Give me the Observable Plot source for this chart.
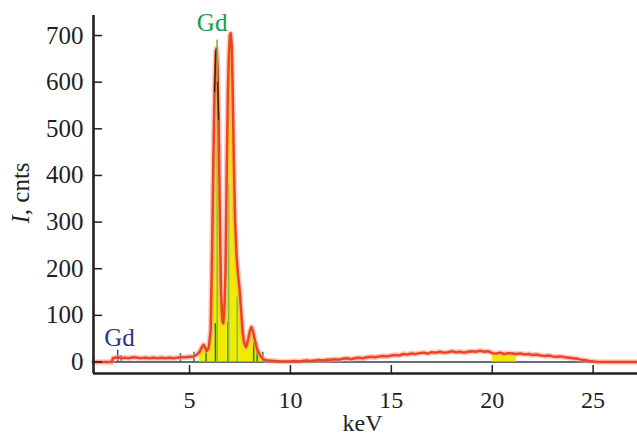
<!DOCTYPE html>
<html><head><meta charset="utf-8">
<script src="https://cdn.jsdelivr.net/npm/d3@7"></script>
<script src="https://cdn.jsdelivr.net/npm/@observablehq/plot@0.6"></script>
<style>
body{margin:0;background:#fff}
svg{font-family:"Liberation Serif","Times New Roman",serif}
</style>
</head><body><div id="chart"></div>
<script>
// spectrum (keV, counts)
const energy = [0.24,1.15,1.2,1.3,1.45,1.6,1.8,2.0,2.2,2.4,2.6,2.8,3.0,3.2,3.4,3.6,3.8,4.0,4.2,4.4,4.6,4.8,5.0,5.2,5.35,5.5,5.62,5.7,5.78,5.86,5.95,6.05,6.12,6.18,6.24,6.3,6.34,6.38,6.44,6.5,6.56,6.62,6.67,6.72,6.78,6.84,6.9,6.95,7.0,7.04,7.09,7.14,7.2,7.26,7.33,7.4,7.47,7.55,7.62,7.7,7.8,7.9,8.0,8.07,8.15,8.25,8.35,8.5,8.65,8.85,9.2,9.6,9.8,10.0,10.2,10.4,10.6,10.8,11.0,11.2,11.4,11.6,11.8,12.0,12.2,12.4,12.6,12.8,13.0,13.2,13.4,13.6,13.8,14.0,14.2,14.4,14.6,14.8,15.0,15.2,15.4,15.6,15.8,16.0,16.2,16.4,16.6,16.8,17.0,17.2,17.4,17.6,17.8,18.0,18.2,18.4,18.6,18.8,19.0,19.2,19.4,19.6,19.8,20.0,20.2,20.4,20.6,20.8,21.0,21.2,21.4,21.6,21.8,22.0,22.2,22.4,22.6,22.8,23.0,23.2,23.4,23.6,23.8,24.0,24.2,24.4,24.6,24.8,25.0,25.2,26.0,27.2];
const counts = [0,0,8,9,10,8,9,8,10,9,8,9,8,9,8,9,8,9,8,9,10,10,11,12,15,22,33,37,30,24,30,70,250,430,580,665,672,640,520,320,150,90,83,110,190,400,580,660,700,705,680,580,420,300,230,190,160,115,70,42,32,48,68,75,65,45,28,14,6,3,2,1,1,1,2,1,2,3,2,3,4,3,5,5,6,5,7,8,6,8,9,8,10,11,10,12,13,12,14,15,14,17,16,18,17,19,20,18,21,20,22,20,21,23,21,22,20,22,23,22,24,22,23,19,18,20,17,19,18,17,18,16,17,15,16,14,13,14,12,11,12,10,9,8,7,5,4,2,1,0,0,0];

// yellow-filled ranges (keV)
const fillRanges = [[5.5, 8.8], [20.0, 21.2]];

// element marker lines
const darkGreenKeV = [4.55, 5.22, 5.82, 6.28, 6.91, 8.18, 8.35, 8.63];
const darkGreenCnt = [18, 21, 32, 82, 85, 40, 29, 21];
const lightGreenKeV = [6.37, 6.94, 7.36];
const lightGreenCnt = [690, 380, 139];
const blueKeV = [1.44, 1.61];
const blueCnt = [25, 14];

// labels
const labelText = ["Gd", "Gd"];
const labelKeV = [6.12, 1.53];
const labelCnt = [727, 52];
const labelColor = ["#10a04a", "#2e3192"];

// axes
const xTicks = [5, 10, 15, 20, 25];
const yTicks = [0, 100, 200, 300, 400, 500, 600, 700];
const xDomain = [0.24, 27.2];
const yDomain = [-24.7, 743];

const spectrum = energy.map((k, i) => ({k, c: counts[i]}));
const fills = fillRanges.map(([a, b]) => spectrum.filter(d => d.k >= a && d.k <= b));
const dkG = darkGreenKeV.map((k, i) => ({k, c: darkGreenCnt[i]}));
const ltG = lightGreenKeV.map((k, i) => ({k, c: lightGreenCnt[i]}));
const blu = blueKeV.map((k, i) => ({k, c: blueCnt[i]}));
const labels = labelText.map((t, i) => ({t, k: labelKeV[i], c: labelCnt[i], color: labelColor[i]}));
const peakCore = spectrum.filter(d => d.k >= 6.24 && d.k <= 6.44);

const ink = "#231f20";
const xTickLen = 17;   // in count units (~8 px)
const yTickLen = 0.45; // in keV units (~9 px)

const plot = Plot.plot({
  width: 637, height: 439,
  marginLeft: 93, marginRight: 0, marginTop: 15, marginBottom: 66,
  x: {domain: xDomain, label: null},
  y: {domain: yDomain, label: null},
  axis: null,
  style: {fontFamily: "Liberation Serif, Times New Roman, serif", color: ink, background: "#fff"},
  marks: [
    Plot.ruleY([0], {x1: xDomain[0], x2: 25.0, stroke: "#2c3e4a", strokeWidth: 1.6}),
    ...fills.map(f => Plot.areaY(f, {x: "k", y1: 0, y2: "c", fill: "#f2ea00"})),
    Plot.ruleX(dkG, {x: "k", y1: 0, y2: "c", stroke: "#1e7b34", strokeWidth: 1.5}),
    Plot.ruleX(ltG, {x: "k", y1: 0, y2: "c", stroke: "#7cc24e", strokeWidth: 1.5}),
    Plot.ruleX(blu, {x: "k", y1: 0, y2: "c", stroke: "#3d47a5", strokeWidth: 1.5}),
    Plot.line(spectrum, {x: "k", y: "c", stroke: "#f6a08a", strokeWidth: 5.5, strokeOpacity: 0.55}),
    Plot.line(spectrum, {x: "k", y: "c", stroke: "#ee4326", strokeWidth: 2.5}),
    Plot.line(peakCore, {x: "k", y: "c", stroke: "#4a1a0c", strokeWidth: 1.3}),
    Plot.ruleX(ltG.slice(0, 1), {x: "k", y1: 600, y2: "c", stroke: "#7cc24e", strokeWidth: 1.5}),
    Plot.text(labels, {x: "k", y: "c", text: "t", fill: "color", fontSize: 25}),
    // axis lines
    Plot.ruleX([xDomain[0]], {stroke: ink, strokeWidth: 2.6}),
    Plot.ruleY([yDomain[0]], {stroke: ink, strokeWidth: 2.6}),
    // inward ticks
    Plot.ruleX(xTicks, {x: d => d, y1: yDomain[0], y2: yDomain[0] + xTickLen, stroke: ink, strokeWidth: 1.5}),
    Plot.ruleY(yTicks, {y: d => d, x1: xDomain[0], x2: xDomain[0] + yTickLen, stroke: ink, strokeWidth: 1.5}),
    Plot.axisX({ticks: xTicks, tickSize: 0, tickPadding: 17, fontSize: 24, label: null, tickFormat: d => String(d)}),
    Plot.axisY({ticks: yTicks, tickSize: 0, tickPadding: 10, fontSize: 25, label: null, tickFormat: d => String(d)}),
    Plot.text(["keV"], {frameAnchor: "bottom", dy: 57, dx: -3, fontSize: 24, fill: ink})
  ]
});
document.getElementById("chart").appendChild(plot);

// y-axis title with italic I
const svg = d3.select(plot);
const t = svg.append("text")
  .attr("transform", "translate(21,193) rotate(-90)")
  .attr("text-anchor", "middle")
  .attr("dy", "0.32em")
  .attr("font-size", 25)
  .attr("fill", ink)
  .attr("font-family", "Liberation Serif, Times New Roman, serif");
t.append("tspan").attr("font-style", "italic").text("I");
t.append("tspan").text(", cnts");
</script>
</body></html>
